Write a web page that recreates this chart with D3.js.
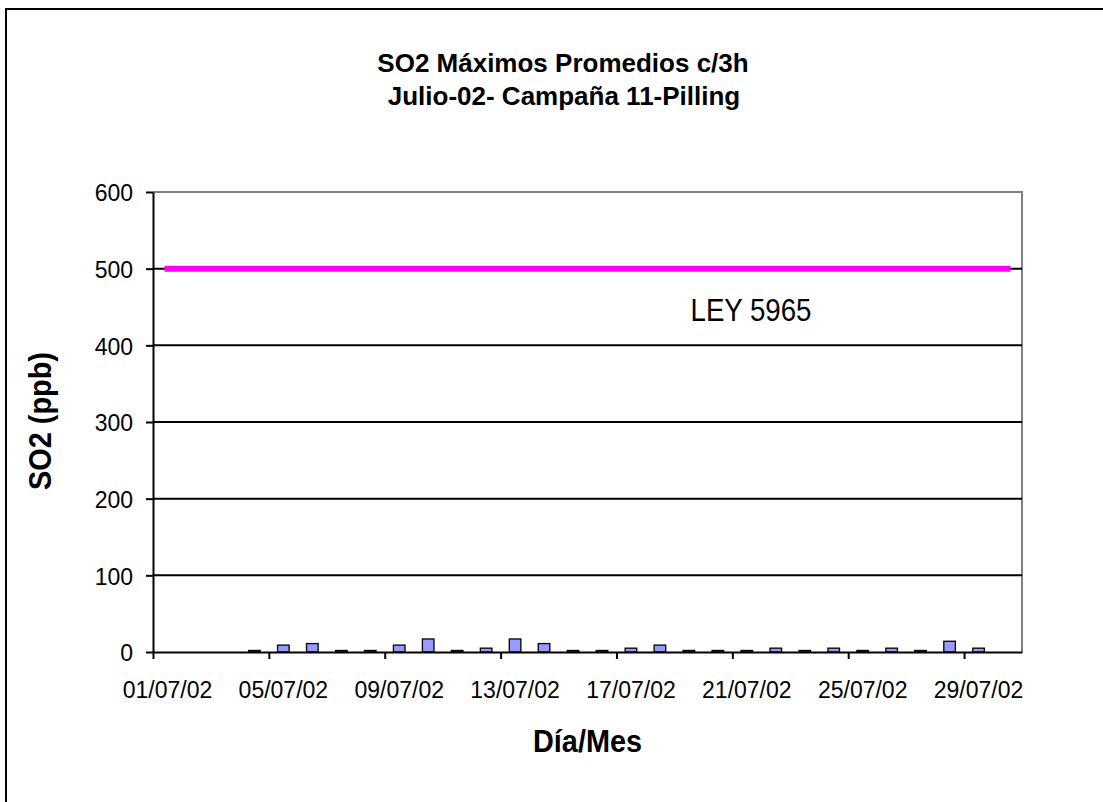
<!DOCTYPE html>
<html>
<head>
<meta charset="utf-8">
<script src="https://cdn.jsdelivr.net/npm/d3@7"></script>
<style>
  html, body { margin: 0; padding: 0; background: #fff; }
  svg { display: block; }
  text { font-family: "Liberation Sans", Arial, sans-serif; fill: #000; }
</style>
</head>
<body>
<svg id="chart" width="1103" height="802"></svg>
<script>
// ---- data ----
const dates = ["01/07/02","02/07/02","03/07/02","04/07/02","05/07/02","06/07/02","07/07/02","08/07/02",
  "09/07/02","10/07/02","11/07/02","12/07/02","13/07/02","14/07/02","15/07/02","16/07/02",
  "17/07/02","18/07/02","19/07/02","20/07/02","21/07/02","22/07/02","23/07/02","24/07/02",
  "25/07/02","26/07/02","27/07/02","28/07/02","29/07/02","30/07/02"];
const so2 = [null, null, null, 2, 9, 11, 2, 2, 9, 17, 2, 5, 17, 11, 2, 2,
  5, 9, 2, 2, 2, 5, 2, 5, 2, 5, 2, 14, 5, null];
const leyValue = [500, 500];
const yTicks = [0, 100, 200, 300, 400, 500, 600];
const xLabelDates = ["01/07/02","05/07/02","09/07/02","13/07/02","17/07/02","21/07/02","25/07/02","29/07/02"];
const titleLines = ["SO2 Máximos Promedios c/3h", "Julio-02- Campaña 11-Pilling"];
const yTitle = "SO2 (ppb)";
const xTitle = "Día/Mes";
const leyLabel = "LEY 5965";

// ---- layout ----
const svg = d3.select("#chart");
const L = 153, R = 1022, T = 192, B = 652;

// outer frame (extends beyond the picture on right/bottom)
svg.append("rect").attr("x", 6).attr("y", 9).attr("width", 1200).attr("height", 900)
  .attr("fill", "#fff").attr("stroke", "#000").attr("stroke-width", 2);

const x = d3.scaleBand().domain(dates).range([L, R]).paddingInner(0.6).paddingOuter(0.3);
const xIdx = d3.scaleLinear().domain([0, dates.length]).range([L, R]);
const y = d3.scaleLinear().domain([0, 600]).range([B, T]);

// plot border (gray top/right)
svg.append("path")
  .attr("d", `M${L},${y(600)}H${R}V${B}`)
  .attr("fill", "none").attr("stroke", "#808080").attr("stroke-width", 2);

// gridlines
svg.append("g").selectAll("line").data(yTicks.filter(d => d > 0 && d < 600)).join("line")
  .attr("x1", L).attr("x2", R).attr("y1", d => y(d)).attr("y2", d => y(d))
  .attr("stroke", "#000").attr("stroke-width", 2);

// bars
svg.append("g").selectAll("rect").data(dates.map((d, i) => ({d, v: so2[i]})).filter(o => o.v != null))
  .join("rect")
  .attr("x", o => x(o.d)).attr("width", x.bandwidth())
  .attr("y", o => y(o.v)).attr("height", o => y(0) - y(o.v))
  .attr("fill", "#9999FF").attr("stroke", "#000").attr("stroke-width", 1.3);

// LEY line
const xc = d => x(d) + x.bandwidth() / 2;
svg.append("path")
  .datum([[dates[0], leyValue[0]], [dates[dates.length - 1], leyValue[1]]])
  .attr("d", d3.line().x(d => xc(d[0])).y(d => y(d[1])))
  .attr("stroke", "#FF00FF").attr("stroke-width", 6).attr("stroke-linecap", "square").attr("fill", "none");

// y axis
const yAxis = svg.append("g").attr("transform", `translate(${L},0)`)
  .call(d3.axisLeft(y).tickValues(yTicks).tickSize(7).tickSizeOuter(0).tickPadding(13));
yAxis.selectAll("path, line").attr("stroke", "#000").attr("stroke-width", 2);
yAxis.selectAll("text").style("font-size", "23px").attr("dy", "0.38em")
  .style("font-family", "'Liberation Sans', Arial, sans-serif");

// x axis ticks (category boundaries)
const xTickAxis = svg.append("g").attr("transform", `translate(0,${B})`)
  .call(d3.axisBottom(xIdx).tickValues(d3.range(0, dates.length, 4)).tickSize(7).tickSizeOuter(0).tickFormat(""));
xTickAxis.selectAll("path, line").attr("stroke", "#000").attr("stroke-width", 2);

// x axis labels (category centers)
const xLabAxis = svg.append("g").attr("transform", `translate(0,${B})`)
  .call(d3.axisBottom(x).tickValues(xLabelDates).tickSize(0).tickPadding(30));
xLabAxis.select(".domain").remove();
xLabAxis.selectAll("text").style("font-size", "23px")
  .style("font-family", "'Liberation Sans', Arial, sans-serif");

// titles
svg.append("text").attr("x", 563).attr("y", 72).attr("text-anchor", "middle")
  .style("font-size", "26px").style("font-weight", "bold").text(titleLines[0]);
svg.append("text").attr("x", 564).attr("y", 105).attr("text-anchor", "middle")
  .style("font-size", "26px").style("font-weight", "bold").text(titleLines[1]);

svg.append("text").attr("x", 587.5).attr("y", 752).attr("text-anchor", "middle")
  .style("font-size", "31px").style("font-weight", "bold")
  .attr("textLength", 109).attr("lengthAdjust", "spacingAndGlyphs").text(xTitle);

svg.append("text").attr("transform", "translate(51,421) rotate(-90)").attr("text-anchor", "middle")
  .style("font-size", "31px").style("font-weight", "bold")
  .attr("textLength", 138).attr("lengthAdjust", "spacingAndGlyphs").text(yTitle);

svg.append("text").attr("x", 751).attr("y", 321).attr("text-anchor", "middle")
  .style("font-size", "31px")
  .attr("textLength", 121).attr("lengthAdjust", "spacingAndGlyphs").text(leyLabel);
</script>
</body>
</html>
